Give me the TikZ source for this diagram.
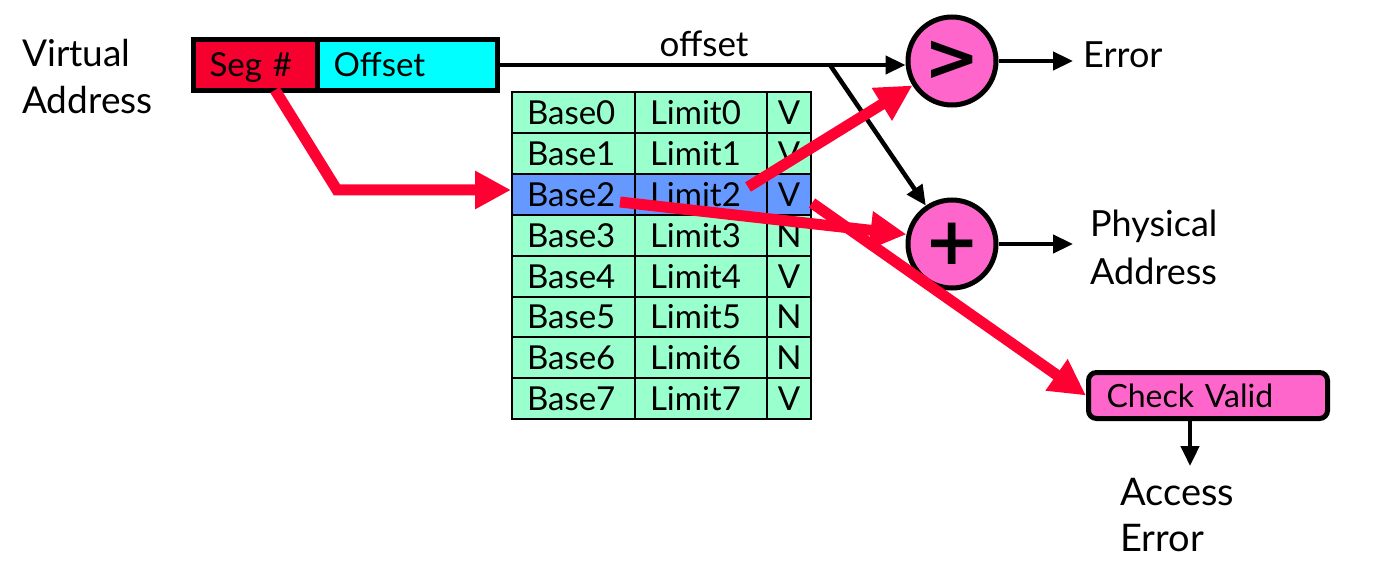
\documentclass[tikz,border=0pt]{standalone}
\usepackage{fontspec}
\setmainfont{Lato}
\newfontfamily\opfont{DejaVu Sans}
\usetikzlibrary{arrows.meta,calc}
\definecolor{rdarrow}{HTML}{FF0033}
\definecolor{segred}{HTML}{F5002F}
\definecolor{offcyan}{HTML}{00FFFF}
\definecolor{opink}{HTML}{FF66CC}
\definecolor{aqua}{HTML}{99FFCC}
\definecolor{selblue}{HTML}{6699FF}
\begin{document}
\begin{tikzpicture}[x=1pt,y=-1pt,
  lbl/.style={inner sep=0pt, align=left},
  cell/.style={draw=black, line width=2pt, minimum height=40.9pt, inner ysep=0pt,
    text height=24pt, text depth=0pt, font=\fontsize{33}{40}\selectfont},
  basecell/.style={cell, text width=93pt, inner xsep=15pt, align=left},
  limcell/.style={cell, text width=102pt, inner xsep=15pt, align=left},
  vcell/.style={cell, text width=40pt, inner xsep=2pt, align=center},
  vabox/.style={draw=black, line width=5pt, minimum height=51pt, inner xsep=16pt,
    inner ysep=0pt, text height=23pt, text depth=0pt, align=left,
    font=\fontsize{33}{38}\selectfont},
  opc/.style={circle, draw=black, line width=5pt, fill=opink, minimum size=88pt,
    inner sep=0pt, font=\opfont\bfseries\fontsize{66}{66}\selectfont},
  blk/.style={draw=black, line width=4.5pt, -{Triangle[length=20pt,width=18pt]}},
  rd/.style={draw=rdarrow, line width=11pt, -{Triangle[length=36pt,width=36pt]}}
]
\useasboundingbox (0,0) rectangle (1375,580);

% labels
\node[lbl, anchor=north west, font=\fontsize{37}{47}\selectfont] (va) at (22,39) {Virtual\\Address};

% virtual address boxes
\node[vabox, fill=segred, text width=92pt] (seg) at (255.5,65) {Seg \#};
\node[vabox, fill=offcyan, text width=148pt] (off) at (407.5,65) {Offset};

% table
\foreach \i/\v/\c in {0/V/aqua,1/V/aqua,2/V/selblue,3/N/aqua,4/V/aqua,5/N/aqua,6/N/aqua,7/V/aqua}{
  \node[basecell, fill=\c] (b\i) at (573.5,{112.45+40.9*\i}) {Base\i};
  \node[limcell, fill=\c] (l\i) at (701,{112.45+40.9*\i}) {Limit\i};
  \node[vcell, fill=\c] (v\i) at (789,{112.45+40.9*\i}) {\v};
}

% operators
\node[opc] (gt) at (952,61) {>};
\node[opc] (plus) at (952,244) {+};

\node[lbl, anchor=base west, inner xsep=10pt, font=\fontsize{36}{44}\selectfont] (err) at (1073,68) {Error};
\node[lbl, anchor=north west, inner xsep=17pt, font=\fontsize{36}{48}\selectfont] (phys) at (1073,210) {Physical\\Address};

\node[draw=black, line width=5pt, fill=opink, rounded corners=8pt, minimum width=239pt,
  minimum height=46pt, text width=203pt, inner xsep=18pt, inner ysep=0pt, align=left,
  text height=23pt, text depth=0pt, font=\fontsize{32}{38}\selectfont] (check) at (1208,395.5) {Check Valid};
\node[lbl, anchor=north west, font=\fontsize{38}{46}\selectfont] (acc) at (1120,478) {Access\\Error};

\node[lbl, anchor=base, font=\fontsize{35}{40}\selectfont] (offlbl) at (704,57) {offset};

% black connectors
\coordinate (br) at (830,65);
\coordinate (ae) at (1190,466);
\draw[blk] (off.east) -- (off.east -| gt.west);
\draw[blk] (br) -- (plus);
\draw[blk] (gt.east) -- (gt.east -| err.west);
\draw[blk] (plus.east) -- (plus.east -| phys.west);
\draw[blk] (ae |- check.south) -- (ae);

% red connectors
\coordinate (s1) at (275,90);
\coordinate (c1) at (337,190);
\coordinate (s2) at (748,187);
\coordinate (s3) at (620,202);
\coordinate (s4) at (812,203);
\draw[rd, line join=miter] (s1) -- (c1) -- (c1 -| b2.west);
\draw[rd] (s2) -- (gt);
\draw[rd] (s3) -- (plus.168);
\draw[rd] (s4) -- (check.west);
\end{tikzpicture}
\end{document}
